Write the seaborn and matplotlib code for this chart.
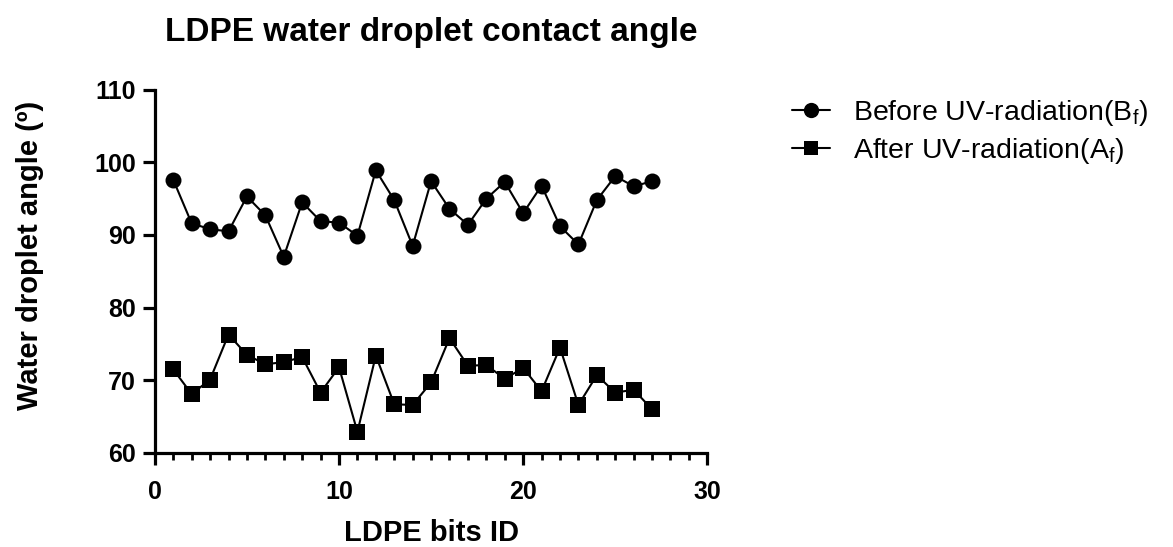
import numpy as np
import pandas as pd
import matplotlib
matplotlib.use("Agg")
import matplotlib.pyplot as plt
import seaborn as sns
from matplotlib.ticker import MultipleLocator

# Contact angle measurements per LDPE bit
bit_ids = list(range(1, 28))
before_uv = [97.6, 91.6, 90.8, 90.5, 95.3, 92.7, 87.0, 94.5, 91.9, 91.7,
             89.9, 98.9, 94.8, 88.5, 97.4, 93.6, 91.4, 95.0, 97.3, 93.0,
             96.8, 91.2, 88.7, 94.8, 98.1, 96.7, 97.4]
after_uv = [71.5, 68.1, 70.1, 76.3, 73.5, 72.2, 72.5, 73.2, 68.3, 71.8,
            62.9, 73.4, 66.7, 66.6, 69.7, 75.8, 72.0, 72.1, 70.2, 71.7,
            68.5, 74.5, 66.6, 70.7, 68.3, 68.7, 66.0]
series_names = ["Before UV-radiation(B$_\\mathrm{f}$)",
                "After UV-radiation(A$_\\mathrm{f}$)"]
title = "LDPE water droplet contact angle"
x_label = "LDPE bits ID"
y_label = "Water droplet angle (º)"

df = pd.DataFrame({
    "id": bit_ids * 2,
    "angle": before_uv + after_uv,
    "series": [series_names[0]] * len(bit_ids) + [series_names[1]] * len(bit_ids),
})

sns.set_theme(style="ticks")
plt.rcParams["font.family"] = ["Liberation Sans", "DejaVu Sans"]
plt.rcParams["mathtext.fontset"] = "custom"
plt.rcParams["mathtext.rm"] = "Liberation Sans"
plt.rcParams["text.color"] = "black"
plt.rcParams["axes.labelcolor"] = "black"
plt.rcParams["xtick.color"] = "black"
plt.rcParams["ytick.color"] = "black"

fig = plt.figure(figsize=(11.73, 5.47), dpi=100)
ax = fig.add_axes([0.132, 0.172, 0.471, 0.664])

sns.lineplot(data=df, x="id", y="angle", style="series", hue="series",
             palette={series_names[0]: "black", series_names[1]: "black"},
             markers={series_names[0]: "o", series_names[1]: "s"},
             dashes=False, markersize=11.5, linewidth=1.5,
             markeredgewidth=0, ax=ax, legend=False)

ax.set_xlim(0, 30)
ax.set_ylim(60, 110)
ax.xaxis.set_major_locator(MultipleLocator(10))
ax.xaxis.set_minor_locator(MultipleLocator(1))
ax.yaxis.set_major_locator(MultipleLocator(10))

for side in ("top", "right"):
    ax.spines[side].set_visible(False)
for side in ("left", "bottom"):
    ax.spines[side].set_linewidth(2.3)
    ax.spines[side].set_color("black")

ax.tick_params(axis="both", which="major", length=8.5, width=2.3,
               labelsize=18, color="black", labelcolor="black")
ax.tick_params(axis="y", which="major", pad=5)
ax.tick_params(axis="x", which="major", pad=11)
ax.tick_params(axis="x", which="minor", length=5, width=2.0, color="black")
for lbl in ax.get_xticklabels() + ax.get_yticklabels():
    lbl.set_fontweight("bold")

ax.set_xlabel(x_label, fontsize=21, fontweight="bold", labelpad=11)
ax.set_ylabel(y_label, fontsize=21, fontweight="bold", labelpad=36)
ax.yaxis.label.set_y(0.545)
ax.set_title(title, fontsize=24, fontweight="bold", pad=35, color="black")

handles = [
    plt.Line2D([], [], color="black", marker="o", markersize=11,
               markeredgewidth=0, linewidth=1.5),
    plt.Line2D([], [], color="black", marker="s", markersize=10,
               markeredgewidth=0, linewidth=1.5),
]
fig.legend(handles, series_names, loc="upper left",
           bbox_to_anchor=(0.653, 0.868), frameon=False, fontsize=20.5,
           handlelength=1.35, handletextpad=0.8, labelspacing=0.28)

fig.savefig("out.png", dpi=100, facecolor="white")
